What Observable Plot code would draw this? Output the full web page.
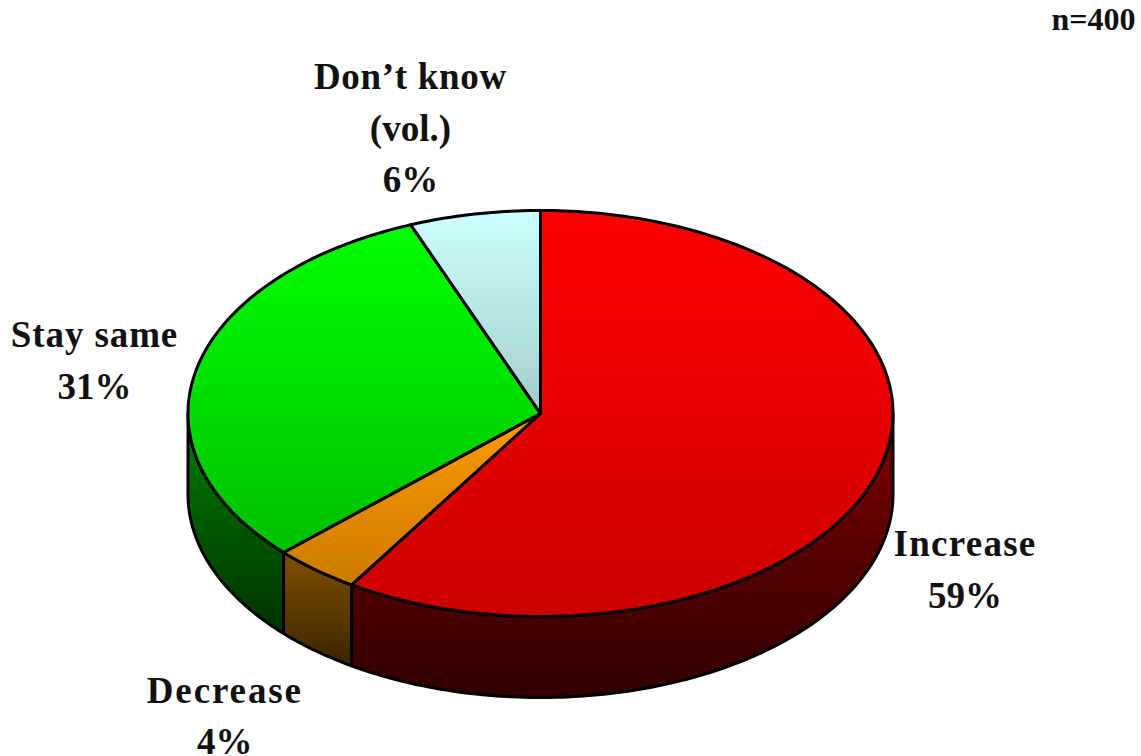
<!DOCTYPE html>
<html>
<head>
<meta charset="utf-8">
<style>
html,body{margin:0;padding:0;background:#fff}
svg{display:block}
</style>
<script src="https://cdn.jsdelivr.net/npm/d3@7"></script>
<script src="https://cdn.jsdelivr.net/npm/@observablehq/plot@0.6"></script>
</head>
<body>
<div id="chart"></div>
<script>
const categories = ["Increase", "Decrease", "Stay same", "Don\u2019t know\n(vol.)"];
const shares = [59, 4, 31, 6];
const topColors = [["#ff0000","#cc0000"],["#ff9900","#cc7a00"],["#00ff00","#00c000"],["#ccffff","#a3cccc"]];
const sideColors = [["#800000","#300000"],["#805000","#3a2500"],["#008000","#003300"],["#667f7f","#334040"]];
const labelOffsets = [[86,95],[-91,142],[-102,-13],[-64,-90]];
const lineSpacing = {"Increase": 1.25, "Decrease": 1.9, "Stay same": 0.9, "Don\u2019t know": 0.7};
const note = "n=400";

const W = 1141, H = 756;
const cx = 540, cy = 413, rx = 352.5, ry = 203, depth = 81;
const fontFamily = "'Liberation Serif', serif";

const pt = (deg, dy = 0) => {
  const t = deg * Math.PI / 180;
  return {x: cx + rx * Math.sin(t), y: cy - ry * Math.cos(t) + dy};
};
const arc = (a0, a1, dy = 0) => {
  const n = Math.max(1, Math.ceil(Math.abs(a1 - a0)));
  return d3.range(n + 1).map(i => pt(a0 + (a1 - a0) * i / n, dy));
};

const total = d3.sum(shares);
const cum = d3.cumsum(shares);
const slices = categories.map((name, i) => ({
  i, name, share: shares[i],
  a0: (i ? cum[i - 1] : 0) / total * 360,
  a1: cum[i] / total * 360
}));

function gradient(id, [c0, c1]) {
  const g = d3.create("svg:linearGradient").attr("id", id)
    .attr("x1", 0).attr("y1", 0).attr("x2", 0).attr("y2", 1);
  g.append("stop").attr("offset", 0).attr("stop-color", c0);
  g.append("stop").attr("offset", 1).attr("stop-color", c1);
  return g.node();
}
const defsMark = () => {
  const d = d3.create("svg:defs");
  slices.forEach(s => {
    d.node().append(gradient(`top${s.i}`, topColors[s.i]));
    d.node().append(gradient(`side${s.i}`, sideColors[s.i]));
  });
  return d.node();
};

const outline = {x: "x", y: "y", stroke: "#000", strokeWidth: 3, strokeLinejoin: "round", curve: "linear"};

const sideMarks = slices.flatMap(s => {
  const a0 = Math.max(s.a0, 90), a1 = Math.min(s.a1, 270);
  if (a1 <= a0) return [];
  const poly = [...arc(a0, a1), ...arc(a1, a0, depth)];
  poly.push(poly[0]);
  return [Plot.line(poly, {...outline, fill: `url(#side${s.i})`})];
});

const topMarks = slices.map(s => {
  const c = {x: cx, y: cy};
  const poly = [c, ...arc(s.a0, s.a1), c];
  return Plot.line(poly, {...outline, fill: `url(#top${s.i})`});
});

const labels = slices.map(s => {
  const p = pt((s.a0 + s.a1) / 2);
  const [ox, oy] = labelOffsets[s.i];
  return {x: p.x + ox, y: p.y + oy, text: `${s.name}\n${s.share}%`};
});

const chart = Plot.plot({
  width: W, height: H,
  margin: 0,
  x: {axis: null, domain: [0, W], range: [0, W]},
  y: {axis: null, domain: [0, H], range: [0, H]},
  style: {background: "#fff"},
  marks: [
    defsMark,
    ...sideMarks,
    ...topMarks,
    Plot.text(labels, {
      x: "x", y: "y", text: "text",
      fontFamily, fontWeight: "bold", fontSize: 37, lineHeight: 1.4,
      fill: "#111", textAnchor: "middle", lineAnchor: "middle"
    }),
    Plot.text([note], {
      frameAnchor: "top-right", dx: -6, dy: 7, text: d => d,
      fontFamily, fontWeight: "bold", fontSize: 32, fill: "#111",
      textAnchor: "end", lineAnchor: "top"
    })
  ]
});
chart.querySelectorAll("tspan").forEach(t => {
  const sp = lineSpacing[t.textContent];
  if (sp) t.setAttribute("letter-spacing", sp);
});
document.getElementById("chart").append(chart);
</script>
</body>
</html>
